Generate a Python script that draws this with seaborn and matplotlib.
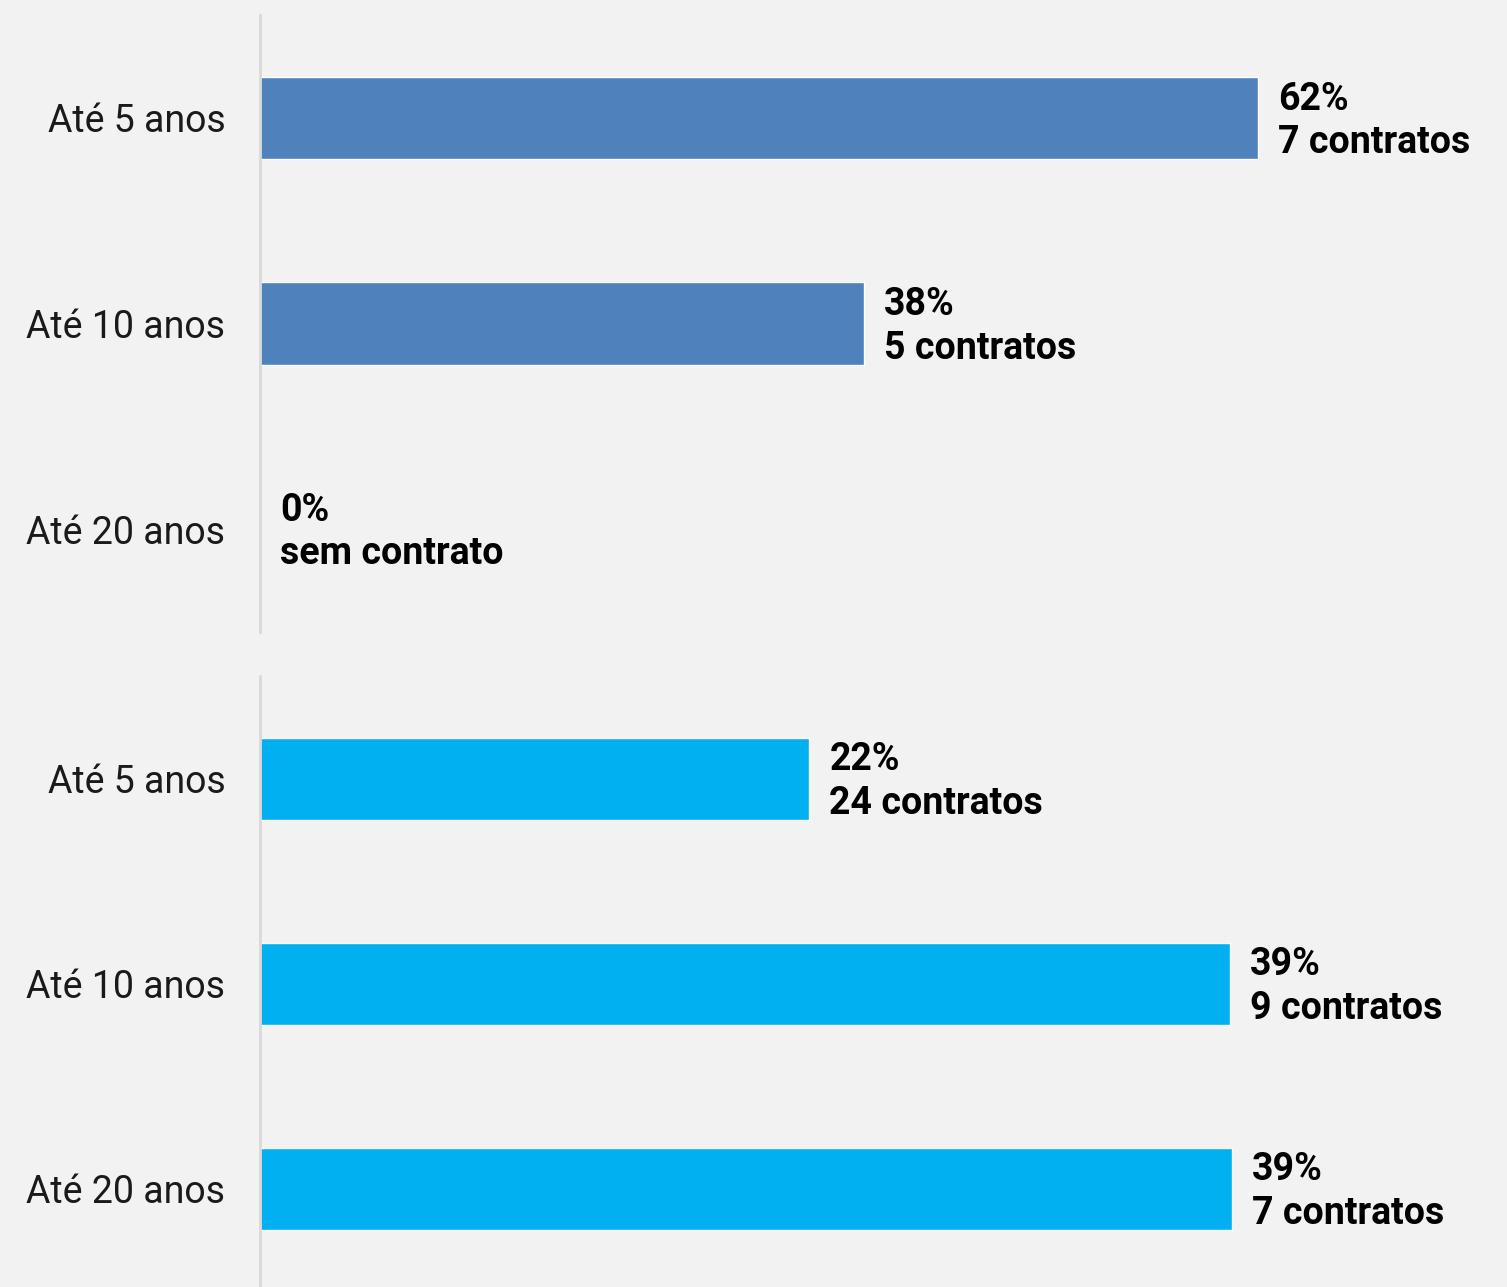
import matplotlib
matplotlib.use("Agg")
import matplotlib.pyplot as plt
import seaborn as sns
import pandas as pd

categories = ["Até 5 anos", "Até 10 anos", "Até 20 anos"]
top_values = [62.3, 37.7, 0.0]
top_labels = ["62%\n7 contratos", "38%\n5 contratos", "0%\nsem contrato"]
bottom_values = [22.1, 39.0, 39.1]
bottom_labels = ["22%\n24 contratos", "39%\n9 contratos", "39%\n7 contratos"]

sns.set_theme(style="white")
plt.rcParams["font.family"] = ["Roboto", "DejaVu Sans"]

W, H = 1507, 1287
BG = "#f2f2f2"
fig = plt.figure(figsize=(W / 100, H / 100), dpi=100, facecolor=BG)


def px_axes(x0, y0, x1, y1):
    return fig.add_axes([x0 / W, 1 - y1 / H, (x1 - x0) / W, (y1 - y0) / H])


def panel(ax, values, labels, color, xmax):
    df = pd.DataFrame({"cat": categories, "val": values})
    sns.barplot(data=df, x="val", y="cat", orient="h", color=color,
                saturation=1, width=0.4, ax=ax)
    ax.set_facecolor(BG)
    ax.set_xlim(0, xmax)
    ax.set_ylim(2.5, -0.5)
    ax.set_xlabel("")
    ax.set_ylabel("")
    ax.set_xticks([])
    for s in ["top", "right", "bottom"]:
        ax.spines[s].set_visible(False)
    ax.spines["left"].set_color("#d9d9d9")
    ax.spines["left"].set_linewidth(2)
    ax.tick_params(axis="y", length=0, pad=25, labelsize=27, labelcolor="#1a1a1a")
    for i, (v, lab) in enumerate(zip(values, labels)):
        ax.annotate(lab, xy=(v, i), xytext=(20, -3), textcoords="offset pixels",
                    ha="left", va="center", fontsize=27, fontweight="bold",
                    color="black", linespacing=1.22, annotation_clip=False)


ax1 = px_axes(260, 15, 1507, 632)
panel(ax1, top_values, top_labels, "#4f81bd", 62.3 * 1247 / 998)

ax2 = px_axes(260, 676, 1507, 1291)
panel(ax2, bottom_values, bottom_labels, "#00b0f0", 39.1 * 1247 / 972)

fig.savefig("out.png", dpi=100, facecolor=BG)
